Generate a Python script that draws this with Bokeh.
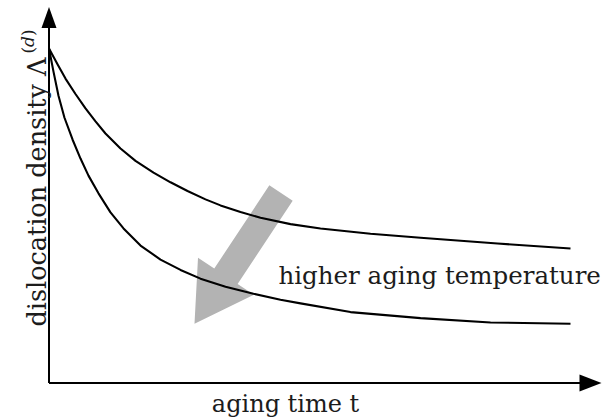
import math

from bokeh.core.properties import value
from bokeh.embed import file_html
from bokeh.models import Range1d
from bokeh.plotting import figure
from bokeh.resources import INLINE

# Aging time (arbitrary units) and normalized dislocation density for two aging temperatures
t_low_temp = [0.0, 0.163, 0.316, 0.508, 0.700, 0.892, 1.083, 1.371, 1.659, 2.004, 2.330, 2.656,
              3.001, 3.289, 3.672, 4.056, 4.631, 5.206, 6.165, 7.124, 8.600, 10.0]
rho_low_temp = [1.000, 0.953, 0.910, 0.864, 0.821, 0.782, 0.746, 0.701, 0.664, 0.629, 0.600, 0.574,
                0.549, 0.531, 0.511, 0.494, 0.475, 0.462, 0.446, 0.434, 0.417, 0.402]

t_high_temp = [0.0, 0.086, 0.182, 0.297, 0.451, 0.604, 0.757, 0.949, 1.179, 1.429, 1.755, 2.138,
               2.522, 2.905, 3.385, 3.921, 4.439, 4.823, 5.781, 7.124, 8.466, 10.0]
rho_high_temp = [1.000, 0.931, 0.859, 0.793, 0.728, 0.671, 0.620, 0.567, 0.510, 0.462, 0.411, 0.369,
                 0.338, 0.312, 0.288, 0.267, 0.249, 0.238, 0.212, 0.194, 0.181, 0.177]

x_label = "aging time t"
y_label = "dislocation density Λ"
y_label_sup = ["(", "d", ")"]
trend_label = "higher aging temperature"

# Trend arrow: tail and tip in data coordinates
trend_tail = (4.449, 0.568)
trend_tip = (2.790, 0.177)

# ---- canvas geometry -------------------------------------------------------
W, H = 602, 420
ORIGIN_PX = (48.5, 382.5)      # where t = 0, rho = 0 sits on the canvas
PX_PER_T = 52.15
PX_PER_RHO = 334.5

T_AXIS_END = (W - 1 - ORIGIN_PX[0]) / PX_PER_T
RHO_AXIS_END = (ORIGIN_PX[1] - 6.5) / PX_PER_RHO

FONT = value("DejaVu Serif")
TEXT_COLOR = "#1c1c1c"


def to_px(x, y):
    return ORIGIN_PX[0] + x * PX_PER_T, ORIGIN_PX[1] - y * PX_PER_RHO


def to_data(px, py):
    return (px - ORIGIN_PX[0]) / PX_PER_T, (ORIGIN_PX[1] - py) / PX_PER_RHO


def arrow_polygon(tail, tip, shaft_w, head_w, head_len):
    """Block arrow outline (screen-pixel widths) returned in data coordinates."""
    (x0, y0), (x1, y1) = to_px(*tail), to_px(*tip)
    dx, dy = x1 - x0, y1 - y0
    L = math.hypot(dx, dy)
    ux, uy = dx / L, dy / L
    nx, ny = -uy, ux
    bx, by = x1 - ux * head_len, y1 - uy * head_len
    pts = [
        (x0 + nx * shaft_w / 2, y0 + ny * shaft_w / 2),
        (bx + nx * shaft_w / 2, by + ny * shaft_w / 2),
        (bx + nx * head_w / 2, by + ny * head_w / 2),
        (x1, y1),
        (bx - nx * head_w / 2, by - ny * head_w / 2),
        (bx - nx * shaft_w / 2, by - ny * shaft_w / 2),
        (x0 - nx * shaft_w / 2, y0 - ny * shaft_w / 2),
    ]
    data = [to_data(px, py) for px, py in pts]
    return [d[0] for d in data], [d[1] for d in data]


p = figure(
    width=W, height=H,
    x_range=Range1d(-ORIGIN_PX[0] / PX_PER_T, (W - ORIGIN_PX[0]) / PX_PER_T),
    y_range=Range1d(-(H - ORIGIN_PX[1]) / PX_PER_RHO, ORIGIN_PX[1] / PX_PER_RHO),
    output_backend="svg", toolbar_location=None,
    x_axis_location=None, y_axis_location=None,
    min_border=0,
)
p.grid.visible = False
p.outline_line_color = None
p.background_fill_color = "white"
p.border_fill_color = "white"

# ---- trend arrow (drawn first, curves pass over it) -----------------------
ax, ay = arrow_polygon(trend_tail, trend_tip, shaft_w=28, head_w=67, head_len=57)
p.patch(ax, ay, fill_color="#b3b3b3", line_color=None)

# ---- curves ---------------------------------------------------------------
p.line(t_low_temp, rho_low_temp, line_color="black", line_width=2.1, line_join="round")
p.line(t_high_temp, rho_high_temp, line_color="black", line_width=2.1, line_join="round")

# ---- axes with arrow heads ------------------------------------------------
head_len_x, head_half_x = 22, 8.5
head_len_y, head_half_y = 21, 7.5
x_tip = to_px(T_AXIS_END, 0)
y_tip = to_px(0, RHO_AXIS_END)

xb = to_data(x_tip[0] - head_len_x + 1, x_tip[1])
yb = to_data(y_tip[0], y_tip[1] + head_len_y - 1)
p.line([0, xb[0]], [0, 0], line_color="black", line_width=2)
p.line([0, 0], [0, yb[1]], line_color="black", line_width=2)

hx = [to_data(x_tip[0], x_tip[1]),
      to_data(x_tip[0] - head_len_x, x_tip[1] - head_half_x),
      to_data(x_tip[0] - head_len_x, x_tip[1] + head_half_x)]
p.patch([h[0] for h in hx], [h[1] for h in hx], fill_color="black", line_color=None)
hy = [to_data(y_tip[0], y_tip[1]),
      to_data(y_tip[0] - head_half_y, y_tip[1] + head_len_y),
      to_data(y_tip[0] + head_half_y, y_tip[1] + head_len_y)]
p.patch([h[0] for h in hy], [h[1] for h in hy], fill_color="black", line_color=None)

# ---- labels ---------------------------------------------------------------
xl = to_data(285, 403)
p.text(x=[xl[0]], y=[xl[1]], text=[x_label], text_font=FONT, text_font_size="24px",
       text_color=TEXT_COLOR, text_align="center", text_baseline="alphabetic")

tl = to_data(278, 275)
p.text(x=[tl[0]], y=[tl[1]], text=[trend_label], text_font=FONT, text_font_size="24.5px",
       text_color=TEXT_COLOR, text_align="left", text_baseline="alphabetic")

yl = to_data(36, 57)
p.text(x=[yl[0]], y=[yl[1]], text=[y_label], text_font=FONT, text_font_size="25.5px",
       text_color=TEXT_COLOR, text_align="right", text_baseline="alphabetic",
       angle=math.pi / 2)

# superscript (d): raised parentheses with an italic d
sup_px_x = 27
sup_offsets = [53, 46.5, 35.5]
sup_styles = ["normal", "italic", "normal"]
for ch, py, style in zip(y_label_sup, sup_offsets, sup_styles):
    sx, sy = to_data(sup_px_x, py)
    p.text(x=[sx], y=[sy], text=[ch], text_font=FONT, text_font_size="17px",
           text_font_style=style, text_color=TEXT_COLOR, text_align="left",
           text_baseline="alphabetic", angle=math.pi / 2)

open("out.html", "w").write(file_html(p, INLINE))
